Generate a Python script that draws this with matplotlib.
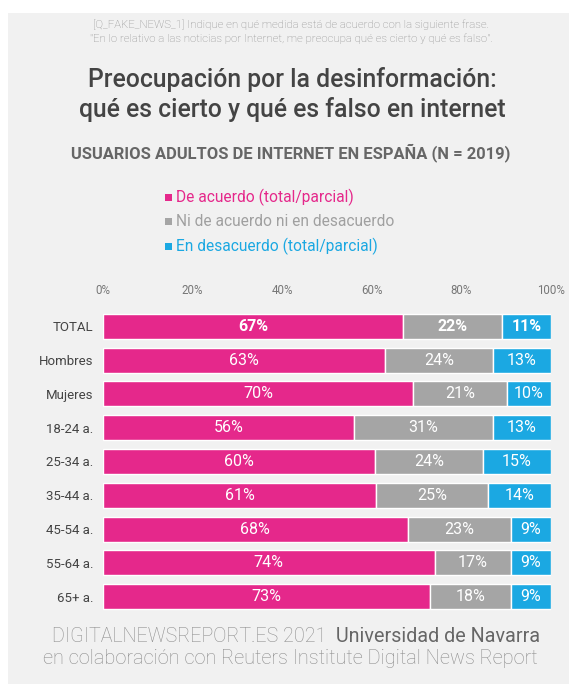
import matplotlib.pyplot as plt
from matplotlib.patches import Rectangle

# datos
categorias = ["TOTAL", "Hombres", "Mujeres", "18-24 a.", "25-34 a.", "35-44 a.",
              "45-54 a.", "55-64 a.", "65+ a."]
de_acuerdo = [67, 63, 70, 56, 60, 61, 68, 74, 73]
ni_ni = [22, 24, 21, 31, 24, 25, 23, 17, 18]
desacuerdo = [11, 13, 10, 13, 15, 14, 9, 9, 9]
series_nombres = ["De acuerdo (total/parcial)", "Ni de acuerdo ni en desacuerdo",
                  "En desacuerdo (total/parcial)"]
ticks = [0, 20, 40, 60, 80, 100]

colores = ["#e5288b", "#a5a5a5", "#1ba8e2"]
bg = "#f1f1f1"

plt.rcParams["font.family"] = ["Roboto", "DejaVu Sans"]

W, H = 569, 684
fig = plt.figure(figsize=(W / 100, H / 100), dpi=100)
fig.patch.set_facecolor("white")
fig.patches.append(Rectangle((8 / W, 0), 1 - 8 / W, 1 - 13 / H,
                             transform=fig.transFigure, facecolor=bg,
                             edgecolor="none", zorder=-5))

def fx(px):
    return px / W

def fy(py):
    return 1 - py / H

# textos superiores
fig.text(fx(291), fy(25), "[Q_FAKE_NEWS_1] Indique en qué medida está de acuerdo con la siguiente frase.",
         ha="center", va="center", fontsize=8.2, color="#8a8a8a", fontweight="light")
fig.text(fx(291), fy(39), "\"En lo relativo a las noticias por Internet, me preocupa qué es cierto y qué es falso\".",
         ha="center", va="center", fontsize=8.2, color="#8a8a8a", fontweight="light")
fig.text(fx(292), fy(79), "Preocupación por la desinformación:",
         ha="center", va="center", fontsize=17.8, color="#444444", fontweight="medium")
fig.text(fx(292), fy(109), "qué es cierto y qué es falso en internet",
         ha="center", va="center", fontsize=17.8, color="#444444", fontweight="medium")
fig.text(fx(291), fy(153), "USUARIOS ADULTOS DE INTERNET EN ESPAÑA (N = 2019)",
         ha="center", va="center", fontsize=11.9, color="#666666", fontweight="bold")

# leyenda
for i, (nombre, c) in enumerate(zip(series_nombres, colores)):
    yy = fy(197 + i * 24.5)
    fig.patches.append(Rectangle((fx(165), yy - 3.5 / H), 7 / W, 7 / H,
                                 transform=fig.transFigure, facecolor=c,
                                 edgecolor="none", zorder=2))
    fig.text(fx(176), yy, nombre, ha="left", va="center", fontsize=11.2,
             color=c if i != 1 else "#a0a0a0")

# barras (anchos normalizados a 100%, como en el original)
ax = fig.add_axes([fx(103), fy(613.4), fx(551) - fx(103), fy(309.6) - fy(613.4)])
ax.set_facecolor("none")
y = list(range(len(categorias)))
totales = [a + b + c for a, b, c in zip(de_acuerdo, ni_ni, desacuerdo)]
izq = [0] * len(categorias)
for vals, c in zip([de_acuerdo, ni_ni, desacuerdo], colores):
    anchos = [v / t * 100 for v, t in zip(vals, totales)]
    ax.barh(y, anchos, left=izq, height=0.74, color=c, edgecolor="white", linewidth=1)
    for yi, (l, a, v) in enumerate(zip(izq, anchos, vals)):
        bold = "bold" if yi == 0 else "normal"
        ax.text(l + a / 2, yi, f"{v}%", ha="center", va="center", color="white",
                fontsize=11.5, fontweight=bold)
    izq = [p + q for p, q in zip(izq, anchos)]

ax.set_xlim(0, 100)
ax.set_ylim(len(categorias) - 0.5, -0.5)
ax.set_yticks(y)
ax.set_yticklabels(categorias, fontsize=9.5, color="#444444")
ax.set_xticks(ticks)
ax.set_xticklabels([f"{t}%" for t in ticks], fontsize=8.3, color="#777777")
ax.xaxis.tick_top()
ax.tick_params(axis="both", length=0)
ax.tick_params(axis="x", pad=9)
ax.tick_params(axis="y", pad=7)
for s in ax.spines.values():
    s.set_visible(False)

# pie
fig.text(fx(331), fy(636), "DIGITALNEWSREPORT.ES 2021 ", ha="right", va="center",
         fontsize=14.2, color="#8c8c8c", fontweight="light")
fig.text(fx(331), fy(636), " Universidad de Navarra", ha="left", va="center",
         fontsize=14.2, color="#666666")
fig.text(fx(290), fy(658), "en colaboración con Reuters Institute Digital News Report",
         ha="center", va="center", fontsize=14.4, color="#8c8c8c", fontweight="light")

fig.savefig("out.png", dpi=100, facecolor=fig.get_facecolor())
